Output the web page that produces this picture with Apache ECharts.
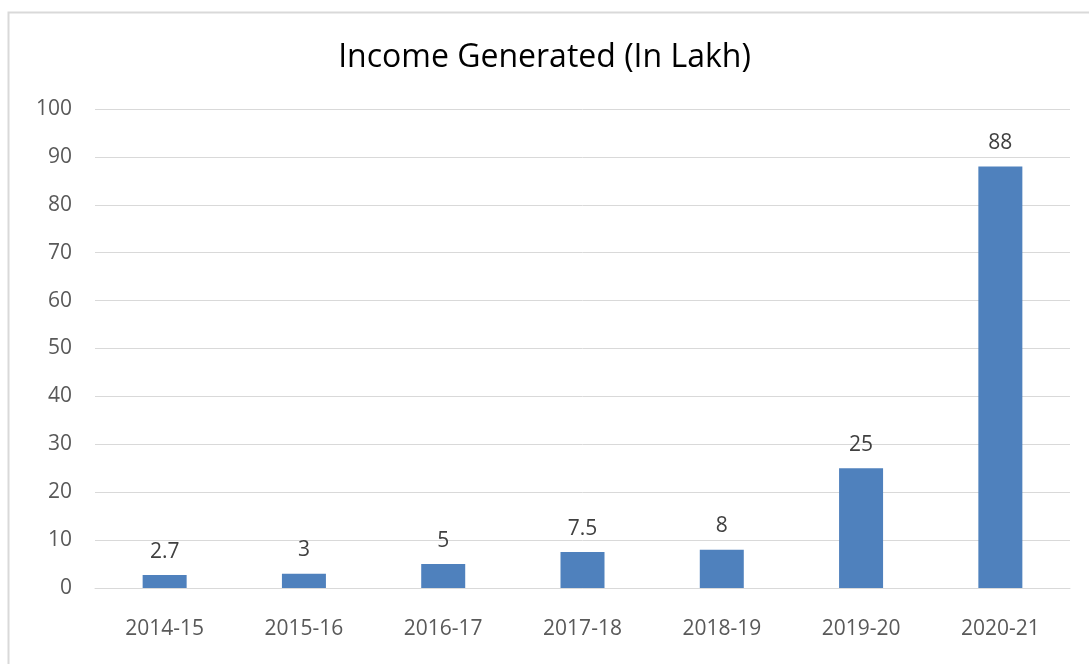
<!DOCTYPE html>
<html>
<head>
<meta charset="utf-8">
<script src="https://cdn.jsdelivr.net/npm/echarts@6/dist/echarts.min.js"></script>
<style>
  html, body { margin: 0; padding: 0; background: #fff; }
  #chart { width: 1089px; height: 664px; }
</style>
</head>
<body>
<div id="chart"></div>
<script>
var years = ['2014-15', '2015-16', '2016-17', '2017-18', '2018-19', '2019-20', '2020-21'];
var income = [2.7, 3, 5, 7.5, 8, 25, 88];
var labelText = ['2.7', '3', '5', '7.5', '8', '25', '88'];

var chart = echarts.init(document.getElementById('chart'));

var option = {
    animation: false,
    textStyle: { fontFamily: 'Open Sans' },
    title: {
        text: 'Income Generated (In Lakh)',
        left: 'center',
        top: 37,
        textStyle: { fontSize: 32, fontWeight: 'normal', color: '#000', fontFamily: 'Open Sans' }
    },
    graphic: [{
        type: 'rect',
        left: 6,
        top: 10,
        shape: { width: 1100, height: 700 },
        style: { fill: 'none', stroke: '#d9d9d9', lineWidth: 2 },
        silent: true
    }],
    grid: { left: 95, right: 19, top: 109, bottom: 76 },
    xAxis: {
        type: 'category',
        data: years,
        axisLine: { lineStyle: { color: '#d9d9d9' } },
        axisTick: { show: false },
        axisLabel: { color: '#595959', fontSize: 21, margin: 31 }
    },
    yAxis: {
        type: 'value',
        min: 0,
        max: 100,
        interval: 10,
        axisLine: { show: false },
        axisTick: { show: false },
        splitLine: { lineStyle: { color: '#d9d9d9' } },
        axisLabel: { color: '#595959', fontSize: 21, margin: 23 }
    },
    series: [{
        type: 'bar',
        data: income,
        barWidth: 44,
        itemStyle: { color: '#4f81bd' },
        label: {
            show: true,
            position: 'top',
            distance: 13,
            color: '#404040',
            fontSize: 21,
            formatter: function (p) { return labelText[p.dataIndex]; }
        }
    }]
};

chart.setOption(option);
</script>
</body>
</html>
